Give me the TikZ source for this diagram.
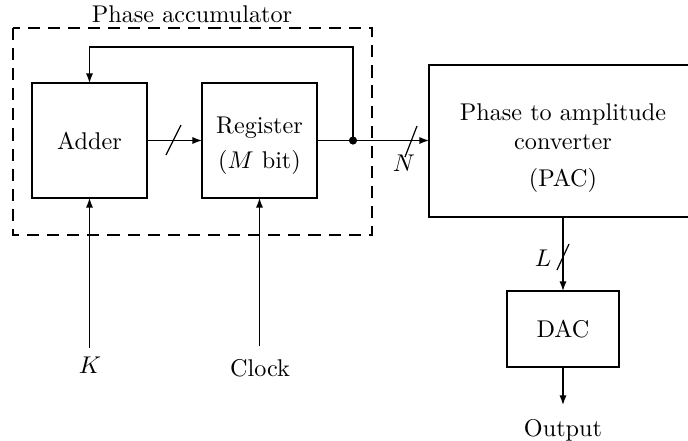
\documentclass[tikz,border=0pt]{standalone}
\usetikzlibrary{arrows.meta}
\begin{document}
\begin{tikzpicture}[x=0.413pt,y=-0.413pt, line width=0.6pt,
  blk/.style={draw, inner sep=0pt, outer sep=0pt, align=center},
  txt/.style={align=center, inner sep=0pt},
  arr/.style={-{Latex[length=4pt,width=3pt]}},
  busmark/.style={line width=0.5pt}]
\useasboundingbox (0,0) rectangle (688,440);
\clip (0,0) rectangle (688,440);
% phase accumulator frame
\draw[dash pattern=on 5pt off 3.3pt] (13,28) rectangle (372,235);
\node (acc) at (192,14) {Phase accumulator};
% blocks
\node[blk, minimum width=47.5pt, minimum height=47.5pt] (adder) at (89.5,140.5) {Adder};
\node[blk, minimum width=47.5pt, minimum height=47.5pt] (reg) at (259.5,140.5) {};
\node[txt] (regtxt) at (259.5,146) {Register\\[2.5pt]($M$ bit)};
\node[blk, minimum width=110.7pt, minimum height=62.8pt] (pac) at (563,141) {};
\node[txt] (pactxt) at (563,148) {Phase to amplitude\\converter\\[3.5pt](PAC)};
\node[blk, minimum width=46.3pt, minimum height=31.4pt] (dac) at (563,329) {DAC};
% helper points
\coordinate (dot) at (353,140.5);
\coordinate (fb) at (353,47);
\coordinate (kin) at (89.5,348);
\coordinate (clkin) at (259.5,346);
\coordinate (outend) at (563,405);
% labels
\node (k) at (90,365) {$K$};
\node (clk) at (260,368) {Clock};
\node (out) at (563,430) {Output};
\node (nlab) at (404,163) {$N$};
\node (llab) at (543,258) {$L$};
% connectors
\draw[arr] (adder.east) -- (reg.west);
\draw (reg.east) -- (dot);
\draw[arr] (dot) -- (pac.west |- dot);
\draw[arr] (dot) -- (fb) -| (adder.north);
\fill (dot) circle (1.7pt);
\draw[arr] (kin) -- (adder.south);
\draw[arr] (clkin) -- (reg.south);
\draw[arr] (pac.south) -- (dac.north);
\draw[arr] (dac.south) -- (outend);
% bus width marks
\draw[busmark] (166,155) -- (181,125);
\draw[busmark] (405,157) -- (417,126);
\draw[busmark] (557,270) -- (569,244);
\end{tikzpicture}
\end{document}
